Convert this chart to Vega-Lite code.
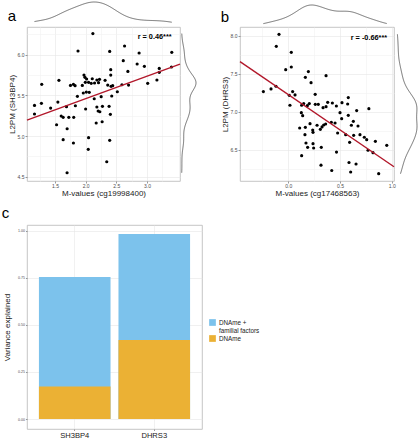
{
  "$schema": "https://vega.github.io/schema/vega-lite/v6.json",
  "padding": {"left": 1, "top": 0, "right": 0, "bottom": 0},
  "autosize": {"type": "pad"},
  "background": "white",
  "config": {
    "font": "Liberation Sans",
    "view": {"stroke": null},
    "axis": {"domain": false, "grid": true, "gridColor": "#e8e8e8", "gridWidth": 0.6, "tickColor": "#555555", "tickWidth": 0.6, "tickSize": 2, "labelFont": "Liberation Sans", "labelFontSize": 5, "labelColor": "#4d4d4d", "labelPadding": 1, "labelOverlap": false, "titleFont": "Liberation Sans", "titleFontSize": 8, "titleFontWeight": "normal", "titleColor": "#1a1a1a", "titlePadding": 1}
  },
  "resolve": {"legend": {"color": "independent"}},
  "align": "none",
  "datasets": {
    "a": [
      {"x":1.876,"y":6.046},{"x":2.392,"y":6.041},{"x":2.634,"y":6.107},{"x":2.871,"y":6.021},{"x":3.403,"y":6.029},
      {"x":2.613,"y":5.927},{"x":2.839,"y":5.886},{"x":2.957,"y":5.857},{"x":2.409,"y":5.816},{"x":3.199,"y":5.832},
      {"x":3.398,"y":5.849},{"x":2.409,"y":5.750},{"x":2.688,"y":5.795},{"x":3.199,"y":5.783},{"x":1.973,"y":5.750},
      {"x":1.989,"y":5.722},{"x":1.565,"y":5.685},{"x":2.016,"y":5.701},{"x":2.108,"y":5.705},{"x":2.183,"y":5.689},
      {"x":2.226,"y":5.697},{"x":2.317,"y":5.685},{"x":1.285,"y":5.636},{"x":1.753,"y":5.623},{"x":1.801,"y":5.636},
      {"x":1.828,"y":5.619},{"x":1.946,"y":5.623},{"x":1.995,"y":5.660},{"x":2.048,"y":5.660},{"x":2.091,"y":5.648},
      {"x":2.145,"y":5.652},{"x":2.210,"y":5.656},{"x":2.360,"y":5.627},{"x":2.414,"y":5.611},{"x":2.441,"y":5.619},
      {"x":2.591,"y":5.631},{"x":2.699,"y":5.627},{"x":3.011,"y":5.648},{"x":3.161,"y":5.689},{"x":1.962,"y":5.529},
      {"x":2.011,"y":5.541},{"x":2.059,"y":5.537},{"x":1.866,"y":5.488},{"x":2.140,"y":5.459},{"x":2.253,"y":5.484},
      {"x":2.425,"y":5.492},{"x":2.516,"y":5.545},{"x":1.167,"y":5.377},{"x":1.280,"y":5.402},{"x":1.548,"y":5.418},
      {"x":1.833,"y":5.373},{"x":1.430,"y":5.344},{"x":1.688,"y":5.361},{"x":2.000,"y":5.332},{"x":2.183,"y":5.357},
      {"x":2.204,"y":5.308},{"x":2.231,"y":5.299},{"x":2.274,"y":5.365},{"x":2.382,"y":5.365},{"x":2.403,"y":5.267},
      {"x":1.167,"y":5.271},{"x":1.634,"y":5.230},{"x":1.726,"y":5.230},{"x":1.806,"y":5.230},{"x":1.527,"y":5.139},
      {"x":1.602,"y":5.246},{"x":2.172,"y":5.160},{"x":2.269,"y":5.176},{"x":1.699,"y":5.090},{"x":1.634,"y":4.955},
      {"x":1.801,"y":4.914},{"x":2.048,"y":4.980},{"x":2.392,"y":4.947},{"x":2.043,"y":4.836},{"x":2.344,"y":4.684},
      {"x":2.118,"y":6.260},{"x":1.698,"y":4.549}
    ],
    "fitA": [{"x": 1.045, "y": 5.196}, {"x": 3.537, "y": 5.884}],
    "b": [
      {"x":-0.090,"y":8.022},{"x":-0.116,"y":7.864},{"x":0.029,"y":7.785},{"x":-0.025,"y":7.557},{"x":0.029,"y":7.592},
      {"x":0.194,"y":7.531},{"x":0.165,"y":7.456},{"x":0.220,"y":7.386},{"x":0.365,"y":7.478},{"x":-0.241,"y":7.268},
      {"x":-0.167,"y":7.303},{"x":-0.119,"y":7.338},{"x":0.042,"y":7.268},{"x":0.010,"y":7.219},{"x":0.065,"y":7.224},
      {"x":0.129,"y":7.088},{"x":0.126,"y":6.991},{"x":0.139,"y":6.952},{"x":0.149,"y":7.110},{"x":0.184,"y":7.083},
      {"x":0.203,"y":7.110},{"x":0.016,"y":7.088},{"x":0.260,"y":7.232},{"x":0.261,"y":7.101},{"x":0.290,"y":7.101},
      {"x":0.336,"y":7.057},{"x":0.365,"y":7.070},{"x":0.381,"y":7.127},{"x":0.426,"y":7.118},{"x":0.465,"y":7.079},
      {"x":0.500,"y":6.991},{"x":0.519,"y":7.123},{"x":0.574,"y":7.105},{"x":0.580,"y":7.189},{"x":0.661,"y":7.018},
      {"x":0.516,"y":6.912},{"x":0.580,"y":6.956},{"x":0.629,"y":6.877},{"x":0.779,"y":7.044},{"x":0.110,"y":6.789},
      {"x":0.165,"y":6.798},{"x":0.210,"y":6.846},{"x":0.239,"y":6.732},{"x":0.236,"y":6.763},{"x":0.278,"y":6.825},
      {"x":0.310,"y":6.772},{"x":0.326,"y":6.803},{"x":0.342,"y":6.829},{"x":0.361,"y":6.842},{"x":0.416,"y":6.864},
      {"x":0.452,"y":6.855},{"x":0.477,"y":6.724},{"x":0.555,"y":6.702},{"x":0.593,"y":6.601},{"x":0.674,"y":6.816},
      {"x":0.610,"y":6.825},{"x":0.758,"y":6.636},{"x":0.693,"y":6.702},{"x":0.735,"y":6.667},{"x":0.632,"y":6.693},
      {"x":0.161,"y":6.702},{"x":0.171,"y":6.592},{"x":0.187,"y":6.535},{"x":0.239,"y":6.583},{"x":0.245,"y":6.526},
      {"x":0.319,"y":6.535},{"x":0.129,"y":6.425},{"x":0.466,"y":6.472},{"x":0.587,"y":6.335},{"x":0.655,"y":6.316},
      {"x":0.603,"y":6.210},{"x":0.771,"y":6.496},{"x":0.952,"y":6.561},{"x":0.842,"y":6.614},{"x":0.819,"y":6.465},
      {"x":0.874,"y":6.188},{"x":0.420,"y":6.230},{"x":0.316,"y":6.300}
    ],
    "fitB": [{"x": -0.467, "y": 7.662}, {"x": 1.022, "y": 6.280}],
    "c": [
      {"gene":"SH3BP4","component":"DNAme + familial factors","value":0.754},
      {"gene":"DHRS3","component":"DNAme + familial factors","value":0.982},
      {"gene":"SH3BP4","component":"DNAme","value":0.173},
      {"gene":"DHRS3","component":"DNAme","value":0.419}
    ]
  },
  "vconcat": [
    {
      "hconcat": [
        {
          "width": 153, "height": 154,
          "data": {"name": "a"},
          "view": {"stroke": "#b8b8b8", "strokeWidth": 0.8},
          "resolve": {"scale": {"x": "independent", "y": "independent"}},
          "layer": [
            {
              "mark": {"type": "circle", "size": 10, "fill": "#000000", "opacity": 1},
              "encoding": {
                "x": {"field": "x", "type": "quantitative", "scale": {"domain": [1.045, 3.537], "nice": false, "zero": false},
                  "axis": {"title": "M-values (cg19998400)", "titleColor": "#1a1a1a", "values": [1.25, 1.5, 1.75, 2, 2.25, 2.5, 2.75, 3, 3.25], "labelPadding": 0, "titlePadding": 1, "labelOverlap": false,
                    "labelExpr": "abs(datum.value*2-round(datum.value*2))>0.01 ? '' : format(datum.value,'.1f')",
                    "gridColor": {"condition": {"test": "abs(datum.value*2-round(datum.value*2))>0.01", "value": "#f2f2f2"}, "value": "#e6e6e6"},
                    "tickOpacity": {"condition": {"test": "abs(datum.value*2-round(datum.value*2))>0.01", "value": 0}, "value": 1}}},
                "y": {"field": "y", "type": "quantitative", "scale": {"domain": [4.447, 6.341], "nice": false, "zero": false},
                  "axis": {"title": "L2PM (SH3BP4)", "titleColor": "#1a1a1a", "values": [4.5, 4.75, 5, 5.25, 5.5, 5.75, 6, 6.25], "labelOverlap": false,
                    "labelExpr": "abs(datum.value*2-round(datum.value*2))>0.01 ? '' : format(datum.value,'.1f')",
                    "gridColor": {"condition": {"test": "abs(datum.value*2-round(datum.value*2))>0.01", "value": "#f2f2f2"}, "value": "#e6e6e6"},
                    "tickOpacity": {"condition": {"test": "abs(datum.value*2-round(datum.value*2))>0.01", "value": 0}, "value": 1}}}
              }
            },
            {
              "data": {"name": "fitA"},
              "mark": {"type": "line", "stroke": "#b2182b", "strokeWidth": 1.4},
              "encoding": {
                "x": {"field": "x", "type": "quantitative", "scale": {"domain": [1.045, 3.537], "nice": false, "zero": false}, "axis": null},
                "y": {"field": "y", "type": "quantitative", "scale": {"domain": [4.447, 6.341], "nice": false, "zero": false}, "axis": null}
              }
            },
            {
              "data": {"values": [{"label": "r = 0.46***"}]},
              "mark": {"type": "text", "fontWeight": "bold", "fontSize": 7.3, "align": "right", "baseline": "middle", "fill": "#000000"},
              "encoding": {
                "x": {"datum": 3.40, "type": "quantitative", "scale": {"domain": [1.045, 3.537], "nice": false, "zero": false}, "axis": null},
                "y": {"datum": 6.22, "type": "quantitative", "scale": {"domain": [4.447, 6.341], "nice": false, "zero": false}, "axis": null},
                "text": {"field": "label"}
              }
            },
            {
              "data": {"values": [{"label": "a"}]},
              "mark": {"type": "text", "fontSize": 15, "align": "left", "baseline": "alphabetic", "fill": "#000000"},
              "encoding": {
                "x": {"datum": 0.731, "type": "quantitative", "scale": {"domain": [1.045, 3.537], "nice": false, "zero": false}, "axis": null},
                "y": {"datum": 6.411, "type": "quantitative", "scale": {"domain": [4.447, 6.341], "nice": false, "zero": false}, "axis": null},
                "text": {"field": "label"}
              }
            },
            {
              "transform": [{"density": "x", "bandwidth": 0.17}],
              "mark": {"type": "line", "stroke": "#4d4d4d", "strokeWidth": 0.8},
              "encoding": {
                "x": {"field": "value", "type": "quantitative", "scale": {"domain": [1.045, 3.537], "nice": false, "zero": false}, "axis": null},
                "y": {"field": "density", "type": "quantitative", "scale": {"nice": false, "zero": true, "range": [-2, -25]}, "axis": null}
              }
            },
            {
              "transform": [{"density": "y", "bandwidth": 0.09}],
              "mark": {"type": "line", "stroke": "#4d4d4d", "strokeWidth": 0.8},
              "encoding": {
                "y": {"field": "value", "type": "quantitative", "scale": {"domain": [4.447, 6.341], "nice": false, "zero": false}, "axis": null},
                "x": {"field": "density", "type": "quantitative", "scale": {"nice": false, "zero": true, "range": [154, 169]}, "axis": null},
                "order": {"field": "value", "type": "quantitative"}
              }
            }
          ]
        },
        {
          "width": 154, "height": 154,
          "data": {"name": "b"},
          "view": {"stroke": "#b8b8b8", "strokeWidth": 0.8},
          "resolve": {"scale": {"x": "independent", "y": "independent"}},
          "layer": [
            {
              "mark": {"type": "circle", "size": 10, "fill": "#000000", "opacity": 1},
              "encoding": {
                "x": {"field": "x", "type": "quantitative", "scale": {"domain": [-0.467, 1.022], "nice": false, "zero": false},
                  "axis": {"title": "M-values (cg17468563)", "titleColor": "#1a1a1a", "values": [-0.25, 0, 0.25, 0.5, 0.75, 1], "labelPadding": 0, "titlePadding": 1, "labelOverlap": false,
                    "labelExpr": "abs(datum.value*2-round(datum.value*2))>0.01 ? '' : format(datum.value,'.1f')",
                    "gridColor": {"condition": {"test": "abs(datum.value*2-round(datum.value*2))>0.01", "value": "#f2f2f2"}, "value": "#e6e6e6"},
                    "tickOpacity": {"condition": {"test": "abs(datum.value*2-round(datum.value*2))>0.01", "value": 0}, "value": 1}}},
                "y": {"field": "y", "type": "quantitative", "scale": {"domain": [6.092, 8.118], "nice": false, "zero": false},
                  "axis": {"title": "L2PM (DHRS3)", "titleColor": "#1a1a1a", "values": [6.25, 6.5, 6.75, 7, 7.25, 7.5, 7.75, 8], "labelOverlap": false,
                    "labelExpr": "abs(datum.value*2-round(datum.value*2))>0.01 ? '' : format(datum.value,'.1f')",
                    "gridColor": {"condition": {"test": "abs(datum.value*2-round(datum.value*2))>0.01", "value": "#f2f2f2"}, "value": "#e6e6e6"},
                    "tickOpacity": {"condition": {"test": "abs(datum.value*2-round(datum.value*2))>0.01", "value": 0}, "value": 1}}}
              }
            },
            {
              "data": {"name": "fitB"},
              "mark": {"type": "line", "stroke": "#b2182b", "strokeWidth": 1.4},
              "encoding": {
                "x": {"field": "x", "type": "quantitative", "scale": {"domain": [-0.467, 1.022], "nice": false, "zero": false}, "axis": null},
                "y": {"field": "y", "type": "quantitative", "scale": {"domain": [6.092, 8.118], "nice": false, "zero": false}, "axis": null}
              }
            },
            {
              "data": {"values": [{"label": "r = -0.66***"}]},
              "mark": {"type": "text", "fontWeight": "bold", "fontSize": 7.3, "align": "right", "baseline": "middle", "fill": "#000000"},
              "encoding": {
                "x": {"datum": 0.955, "type": "quantitative", "scale": {"domain": [-0.467, 1.022], "nice": false, "zero": false}, "axis": null},
                "y": {"datum": 7.97, "type": "quantitative", "scale": {"domain": [6.092, 8.118], "nice": false, "zero": false}, "axis": null},
                "text": {"field": "label"}
              }
            },
            {
              "data": {"values": [{"label": "b"}]},
              "mark": {"type": "text", "fontSize": 15, "align": "left", "baseline": "alphabetic", "fill": "#000000"},
              "encoding": {
                "x": {"datum": -0.654, "type": "quantitative", "scale": {"domain": [-0.467, 1.022], "nice": false, "zero": false}, "axis": null},
                "y": {"datum": 8.180, "type": "quantitative", "scale": {"domain": [6.092, 8.118], "nice": false, "zero": false}, "axis": null},
                "text": {"field": "label"}
              }
            },
            {
              "transform": [{"density": "x", "bandwidth": 0.09}],
              "mark": {"type": "line", "stroke": "#4d4d4d", "strokeWidth": 0.8},
              "encoding": {
                "x": {"field": "value", "type": "quantitative", "scale": {"domain": [-0.467, 1.022], "nice": false, "zero": false}, "axis": null},
                "y": {"field": "density", "type": "quantitative", "scale": {"nice": false, "zero": true, "range": [-1, -22]}, "axis": null}
              }
            },
            {
              "transform": [{"density": "y", "bandwidth": 0.13}],
              "mark": {"type": "line", "stroke": "#4d4d4d", "strokeWidth": 0.8},
              "encoding": {
                "y": {"field": "value", "type": "quantitative", "scale": {"domain": [6.092, 8.118], "nice": false, "zero": false}, "axis": null},
                "x": {"field": "density", "type": "quantitative", "scale": {"nice": false, "zero": true, "range": [156, 177]}, "axis": null},
                "order": {"field": "value", "type": "quantitative"}
              }
            }
          ]
        }
      ],
      "spacing": 22
    },
    {
      "width": 175, "height": 204,
      "data": {"name": "c"},
      "view": {"stroke": "#b8b8b8", "strokeWidth": 0.8},
      "resolve": {"scale": {"x": "independent"}},
      "layer": [
        {
          "mark": {"type": "bar"},
          "encoding": {
            "x": {"field": "gene", "type": "nominal", "sort": ["SH3BP4", "DHRS3"], "scale": {"paddingInner": 0.1, "paddingOuter": 0.15},
              "axis": {"title": null, "labelAngle": 0, "labelFontSize": 7.6, "labelColor": "#1a1a1a", "bandPosition": 0.5, "tickSize": 1.5, "labelPadding": 0.5}},
            "y": {"field": "value", "type": "quantitative", "stack": null, "scale": {"domain": [-0.053, 1.03], "nice": false},
              "axis": {"title": "Variance explained", "titleColor": "#1a1a1a", "values": [0, 0.125, 0.25, 0.375, 0.5, 0.625, 0.75, 0.875, 1], "labelFontSize": 3.6, "tickSize": 1.5, "titlePadding": 6,
                "labelExpr": "abs(datum.value*4-round(datum.value*4))>0.01 ? '' : format(datum.value,'.2f')",
                "gridColor": {"condition": {"test": "abs(datum.value*4-round(datum.value*4))>0.01", "value": "#f2f2f2"}, "value": "#e6e6e6"},
                "tickOpacity": {"condition": {"test": "abs(datum.value*4-round(datum.value*4))>0.01", "value": 0}, "value": 1}}},
            "color": {"field": "component", "type": "nominal",
              "scale": {"domain": ["DNAme + familial factors", "DNAme"], "range": ["#7cc2ec", "#ebb134"]},
              "legend": {"orient": "none", "legendX": 182, "legendY": 94, "title": null, "symbolType": "square", "symbolSize": 45, "symbolStrokeWidth": 0,
                "labelFontSize": 6.3, "labelFont": "Liberation Sans", "labelColor": "#222222", "labelOffset": 3, "rowPadding": 0,
                "labelExpr": "datum.label == 'DNAme + familial factors' ? ['DNAme +', 'familial factors'] : datum.label"}}
          }
        },
        {
          "data": {"values": [{"label": "c"}]},
          "mark": {"type": "text", "fontSize": 15, "align": "left", "baseline": "alphabetic", "fill": "#000000"},
          "encoding": {
            "x": {"datum": -0.1446, "type": "quantitative", "scale": {"domain": [0, 1], "nice": false, "zero": false}, "axis": null},
            "y": {"datum": 1.067, "type": "quantitative", "scale": {"domain": [-0.053, 1.03], "nice": false}},
            "text": {"field": "label"}
          }
        }
      ]
    }
  ],
  "spacing": 7
}
